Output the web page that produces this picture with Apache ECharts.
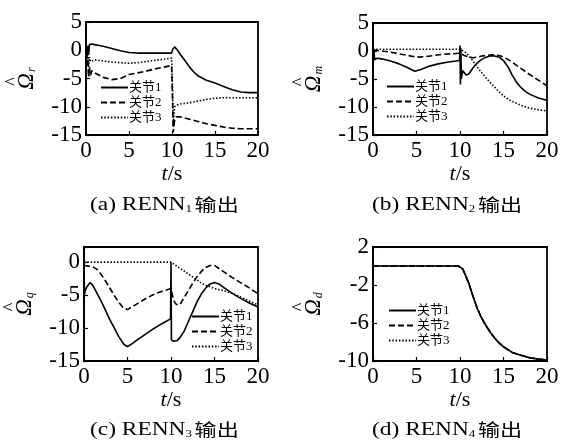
<!DOCTYPE html>
<html><head><meta charset="utf-8">
<script src="https://cdn.jsdelivr.net/npm/echarts@6/dist/echarts.min.js"></script>
<style>html,body{margin:0;padding:0;background:#fff}#c{width:562px;height:446px}</style>
</head><body><div id="c"></div>
<script>
// Panel (a) RENN1
const aT1 = [0,0.1,0.2,0.3,0.4,0.5,0.7,1,2,3,4,5,6,7,8,9,9.95,10.1,10.3,10.6,11,11.5,12,12.5,13,14,15,16,17,18,19,20];
const aV1 = [0,-1.5,0.8,-0.8,1,1.2,1.1,1.0,0.7,0.3,-0.1,-0.4,-0.5,-0.5,-0.5,-0.5,-0.5,0.2,0.6,0.1,-0.8,-1.8,-2.9,-3.8,-4.5,-5.3,-5.8,-6.4,-7.0,-7.4,-7.5,-7.5];
const aT2 = [0,0.1,0.2,0.3,0.4,0.5,0.7,1,2,3,4,5,6,7,8,9,9.95,10.05,10.15,10.3,10.5,11,12,13,14,15,16,17,18,19,20];
const aV2 = [0,-3,-1.5,-4.8,-3,-4.5,-3.6,-4.0,-4.8,-5.2,-5.0,-4.3,-4.0,-3.7,-3.3,-3.0,-2.7,-8,-14.5,-12.5,-11.8,-11.8,-12.2,-12.6,-13.0,-13.3,-13.6,-13.8,-13.9,-13.9,-13.9];
const aT3 = [0,0.1,0.2,0.3,0.4,0.5,0.7,1,2,3,4,5,6,7,8,9,9.95,10.05,10.15,10.3,10.6,11,12,13,14,15,16,17,18,19,20];
const aV3 = [0,-2.5,-0.5,-3,-1.2,-2,-1.7,-1.7,-1.9,-2.1,-2.2,-2.3,-2.2,-2.0,-1.8,-1.6,-1.4,-6,-13.5,-10,-9.7,-9.5,-9.3,-9.0,-8.7,-8.5,-8.4,-8.4,-8.4,-8.4,-8.4];
// Panel (b) RENN2
const bT1 = [0,0.05,0.1,0.2,0.5,1,2,3,4,4.8,5.5,6.5,7.5,8.5,9.5,9.95,10,10.05,10.1,10.15,10.3,10.7,11,11.5,12,12.5,13,13.5,14,14.5,15,15.5,16,16.5,17,17.5,18,19,20];
const bV1 = [0.3,-1.9,0,-1.5,-1.3,-1.4,-1.8,-2.3,-3.0,-3.6,-3.3,-2.7,-2.3,-2.0,-1.8,-1.7,1.0,-6.0,0.5,-5,-3.5,-4.3,-4.1,-3.0,-2.1,-1.5,-1.1,-0.9,-0.9,-1.1,-1.7,-2.8,-4.3,-5.6,-6.5,-7.2,-7.7,-8.4,-8.8];
const bT2 = [0,0.05,0.1,0.5,1,2,3,4,5,6,7,8,9,10,10.5,11,11.5,12,12.5,13,13.5,14,14.5,15,15.5,16,17,18,19,20];
const bV2 = [0.2,0.3,0.2,0.1,0,-0.2,-0.5,-0.8,-1.1,-1.0,-0.8,-0.6,-0.5,-0.4,-0.8,-1.1,-1.2,-1.1,-0.9,-0.8,-0.7,-0.7,-0.8,-1.1,-1.5,-2.0,-3.1,-4.2,-5.2,-6.2];
const bT3 = [0,10,10.5,11,11.5,12,12.5,13,13.5,14,14.5,15,15.5,16,17,18,19,20];
const bV3 = [0.3,0.3,-0.1,-0.8,-1.8,-2.9,-3.9,-4.8,-5.7,-6.5,-7.3,-8.0,-8.6,-9.0,-9.7,-10.2,-10.5,-10.7];
// Panel (c) RENN3
const cT1 = [0,0.05,0.1,0.3,0.7,1,2,3,4,4.6,5,5.5,6,7,8,9,9.95,10,10.05,10.3,10.7,11,11.5,12,12.5,13,13.5,14,14.5,15,15.5,16,17,18,19,20];
const cV1 = [0,-5,-4.5,-3.8,-3.1,-3.5,-6.0,-8.8,-11.3,-12.5,-12.8,-12.4,-11.9,-11.0,-10.1,-9.3,-8.6,0,-11.8,-12,-11.9,-11.5,-10.5,-9.0,-7.5,-6.0,-4.8,-3.9,-3.3,-3.1,-3.3,-3.8,-4.7,-5.5,-6.2,-6.8];
const cT2 = [0,0.5,1,1.5,2,2.5,3,3.5,4,4.5,5,6,7,8,9,10,10.3,10.6,11,11.5,12,12.5,13,13.5,14,14.5,15,16,17,18,19,20];
const cV2 = [-0.5,-0.6,-0.7,-1.1,-1.9,-2.9,-4.0,-5.1,-6.1,-6.9,-7.2,-6.4,-5.6,-4.9,-4.4,-4.0,-5.8,-6.4,-6.5,-5.4,-4.3,-3.2,-2.2,-1.4,-0.8,-0.5,-0.5,-1.4,-2.3,-3.1,-3.9,-4.8];
const cT3 = [0,10,11,12,13,13.5,14,15,16,17,18,19,20];
const cV3 = [0,0,-0.9,-1.8,-2.7,-3.2,-3.5,-4.0,-4.3,-4.7,-5.3,-5.9,-6.5];
// Panel (d) RENN4 (three joints identical)
const dT = [0,9.8,10,10.3,10.6,11,11.5,12,12.5,13,13.5,14,14.5,15,16,17,18,19,20];
const dV1 = [0,0,0,-0.3,-0.9,-1.8,-3.2,-4.5,-5.5,-6.3,-7.0,-7.6,-8.1,-8.5,-9.1,-9.4,-9.65,-9.8,-9.9];
const dV2 = [0,0,0,-0.3,-0.9,-1.8,-3.2,-4.5,-5.5,-6.3,-7.0,-7.6,-8.1,-8.5,-9.1,-9.4,-9.65,-9.8,-9.9];
const dV3 = [0,0,0,-0.3,-0.9,-1.8,-3.2,-4.5,-5.5,-6.3,-7.0,-7.6,-8.1,-8.5,-9.1,-9.4,-9.65,-9.8,-9.9];

const names = ['关节1','关节2','关节3'];
const xTicks = {min:0, max:20, interval:5};
const yRanges = [
  {min:-15, max:5, interval:5},
  {min:-15, max:5, interval:5},
  {min:-15, max:2.3, interval:5},
  {min:-10, max:2, interval:4}
];
const ySubs = ['r','m','q','d'];
const captions = [['(a) RENN','1'],['(b) RENN','2'],['(c) RENN','3'],['(d) RENN','4']];

const SERIF = '"Liberation Serif","Times New Roman",serif';
const CJK = '"Liberation Serif","Noto Sans CJK SC",serif';
const grids = [
  {left:86, top:22, width:172, height:113},
  {left:373, top:23, width:174, height:112},
  {left:84, top:247, width:174, height:114},
  {left:373, top:247, width:174, height:114}
];
const legendPos = [
  {left:100, top:81},
  {left:386, top:80},
  {left:191, top:310},
  {left:388, top:304}
];
const captionPos = [
  {left:90, top:196},
  {left:372, top:196},
  {left:90, top:421},
  {left:372, top:421}
];
const pairs = (t,v)=>t.map((x,i)=>[x,v[i]]);
const panelData = [
  [pairs(aT1,aV1),pairs(aT2,aV2),pairs(aT3,aV3)],
  [pairs(bT1,bV1),pairs(bT2,bV2),pairs(bT3,bV3)],
  [pairs(cT1,cV1),pairs(cT2,cV2),pairs(cT3,cV3)],
  [pairs(dT,dV1),pairs(dT,dV2),pairs(dT,dV3)]
];
const lineTypes = ['solid',[6,3],[1.5,1.8]];

const option = {
  animation:false,
  backgroundColor:'#fff',
  grid: grids.map(g=>Object.assign({show:true, borderColor:'#000', borderWidth:1.8, backgroundColor:'transparent'}, g)),
  xAxis: grids.map((g,i)=>({
    type:'value', gridIndex:i, min:xTicks.min, max:xTicks.max, interval:xTicks.interval,
    axisLine:{show:true, onZero:false, lineStyle:{color:'#000', width:1.8}},
    axisTick:{show:true, inside:true, length:4, lineStyle:{color:'#000', width:1.2}},
    splitLine:{show:false},
    axisLabel:{color:'#000', fontFamily:SERIF, fontSize:23, margin:4},
    name:'{i|t}{n|/s}', nameLocation:'middle', nameGap:26,
    nameTextStyle:{rich:{i:{fontFamily:SERIF, fontStyle:'italic', fontSize:22, color:'#000'}, n:{fontFamily:SERIF, fontSize:22, color:'#000'}}}
  })),
  yAxis: grids.map((g,i)=>({
    type:'value', gridIndex:i, min:yRanges[i].min, max:yRanges[i].max, interval:yRanges[i].interval,
    axisLine:{show:true, onZero:false, lineStyle:{color:'#000', width:1.8}},
    axisTick:{show:true, inside:true, length:4, lineStyle:{color:'#000', width:1.2}},
    splitLine:{show:false},
    axisLabel:{color:'#000', fontFamily:SERIF, fontSize:23, margin:4,
      formatter:(v)=> (Math.abs((v - yRanges[i].min) % yRanges[i].interval) < 1e-6 ? String(v) : '')},
    name:'{h|^}\n{o|\u03A9}{s|'+ySubs[i]+'}', nameLocation:'middle', nameRotate:90, nameGap:48,
    nameTextStyle:{align:'center', rich:{
      h:{fontFamily:SERIF, fontSize:18, color:'#000', lineHeight:5, padding:[0,6,0,0]},
      o:{fontFamily:SERIF, fontStyle:'italic', fontSize:23, color:'#000', lineHeight:22},
      s:{fontFamily:SERIF, fontStyle:'italic', fontSize:12, color:'#000', verticalAlign:'bottom', lineHeight:12, padding:[10,0,0,1]}
    }}
  })),
  legend: grids.map((g,i)=>({
    orient:'vertical', left:legendPos[i].left, top:legendPos[i].top,
    itemWidth:27, itemHeight:12, itemGap:2, padding:0,
    itemStyle:{opacity:0},
    textStyle:{fontFamily:CJK, fontSize:13, color:'#000', padding:[0,0,0,-4]},
    data:names.map(n=>({name:n}))
  })),
  series: [],
  graphic: grids.map((g,i)=>({
    type:'text', left: captionPos[i].left, top: captionPos[i].top, scaleX:1.3,
    style:{
      rich:{
        a:{fontFamily:SERIF, fontSize:18, fill:'#000'},
        s:{fontFamily:SERIF, fontSize:10, fill:'#000', verticalAlign:'bottom', padding:[9,0,0,0]},
        c:{fontFamily:'"Noto Sans CJK SC",serif', fontSize:17, fill:'#000', padding:[0,0,0,2]}
      },
      text:'{a|'+captions[i][0]+'}{s|'+captions[i][1]+'}{c|输出}'
    }
  }))
};
for (let p=0;p<4;p++){
  const order = p===3 ? [2,1,0] : [0,1,2];
  order.forEach(j=>{
    option.series.push({
      type:'line', name:names[j], xAxisIndex:p, yAxisIndex:p, data:panelData[p][j],
      symbol:'none', showSymbol:false, silent:true, clip:true,
      lineStyle:{color:'#000', width:1.6, type:lineTypes[j]},
      itemStyle:{color:'#000'}
    });
  });
}
const chart = echarts.init(document.getElementById('c'), null, {renderer:'canvas'});
chart.setOption(option);
</script></body></html>
